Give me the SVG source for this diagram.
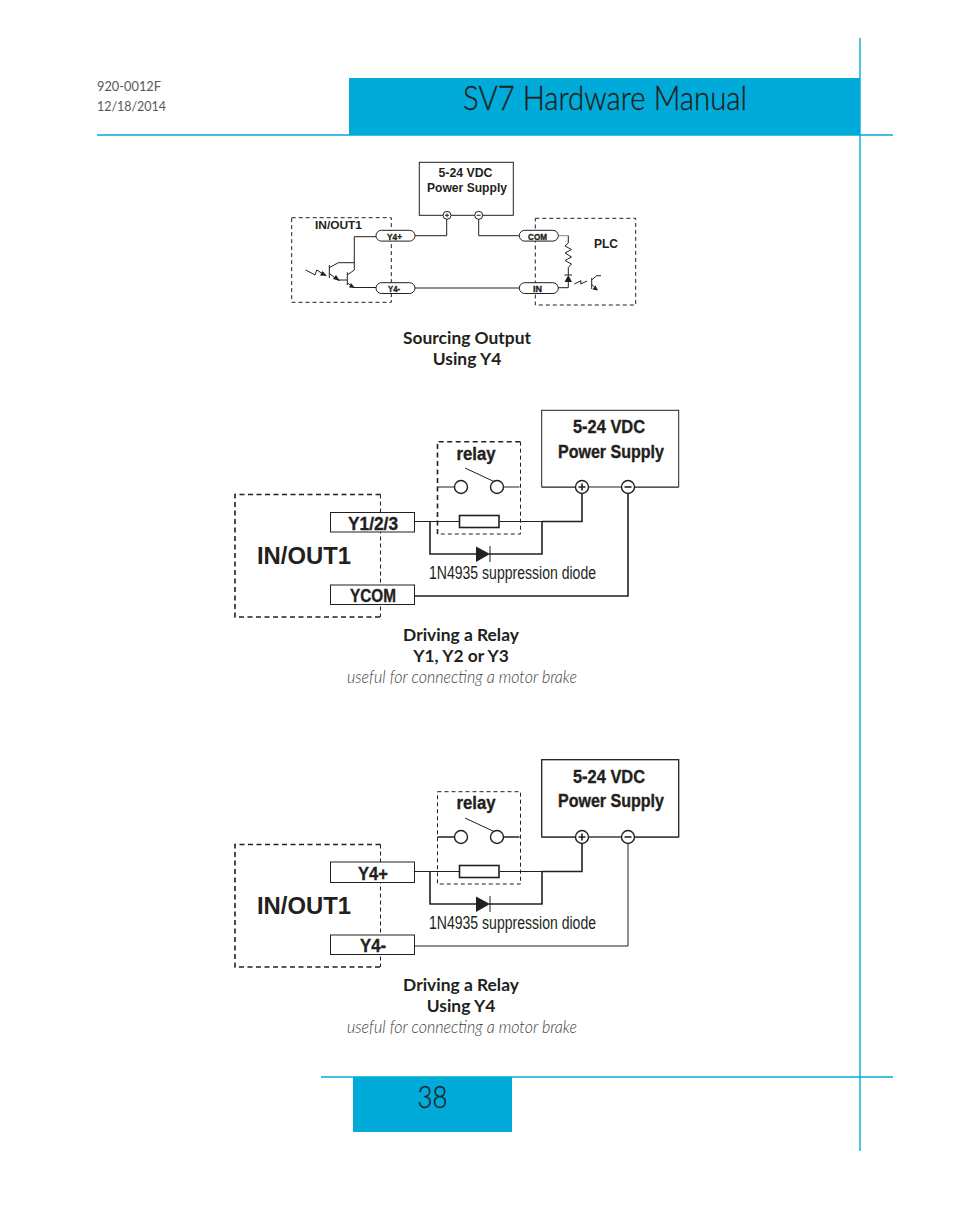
<svg xmlns="http://www.w3.org/2000/svg" width="954" height="1209" viewBox="0 0 954 1209">
<style>
.w{fill:none;stroke:#231f20;stroke-width:1}
.w2{fill:none;stroke:#231f20;stroke-width:1.6}
.d{fill:none;stroke:#231f20;stroke-width:1;stroke-dasharray:4 3}
.d2{fill:none;stroke:#231f20;stroke-width:1.6;stroke-dasharray:5 3.5}
.box{fill:#fff;stroke:#231f20;stroke-width:1}
.c{fill:#fff;stroke:#231f20;stroke-width:1.4}
.k{fill:#231f20;stroke:none}
.t{fill:#231f20;font-family:"Liberation Sans",Arial,sans-serif}
.b{font-weight:700}
.h{fill:#231f20;font-family:Lato,"Open Sans",sans-serif;text-anchor:middle}
.n{font-weight:700;text-anchor:middle;stroke:#231f20;stroke-width:.35}
.m{text-anchor:middle}
.i{fill:#414042;font-family:Lato,sans-serif;font-style:italic;font-weight:300;text-anchor:middle}
</style>
<g id="page">
<rect x="349" y="78" width="511" height="57" fill="#00abd9"/>
<rect x="353" y="1077" width="159" height="55" fill="#00abd9"/>
<path d="M97 135H893M321 1077H893M860 38V1151" fill="none" stroke="#00abd9" stroke-width="1.400"/>
<text x="97" y="91" font-family="Lato,sans-serif" font-size="14" fill="#58595b" textLength="64" lengthAdjust="spacingAndGlyphs">920-0012F</text>
<text x="97" y="111" font-family="Lato,sans-serif" font-size="14" fill="#58595b" textLength="69" lengthAdjust="spacingAndGlyphs">12/18/2014</text>
<text x="463" y="110" font-family="Lato,sans-serif" font-size="34" font-weight="300" fill="#231f20" stroke="#231f20" stroke-width=".35" textLength="284" lengthAdjust="spacingAndGlyphs">SV7 Hardware Manual</text>
<text x="432.500" y="1107.500" font-family="Lato,sans-serif" font-size="32" font-weight="300" fill="#231f20" stroke="#231f20" stroke-width=".3" text-anchor="middle" textLength="30" lengthAdjust="spacingAndGlyphs">38</text>
</g>

<g id="d1-connectors">
<path class="w" d="M415 235.700H446.700V219M478.700 219V235.700H519.300M376 236.700H354.300V270M415 288H519.300"/>
<path d="M558.300 235.700H568.300" fill="none" stroke="#8a8a8a"/>
<path class="w" d="M568.300 235.700V243M568.300 267.500V275M558.300 287.700H568.300V281"/>
<path class="w" d="M568.300 243L565 246L571.500 249.500L565 253L571.500 257L565 260.500L571.500 264L568.300 267.500"/>
<path class="w" d="M329.300 265V278M329.300 267.700L338.300 262.700H354.300M329.300 273.500L338 280H347.300M347.300 272.300V285M347.300 275L354.300 270M347.300 282.700L353.300 287.500H376"/>
<path class="w" d="M305.700 270L315 275L316.700 270L324 274.500M574.300 284L581 280.700L580.700 284L587 281M591.700 278V289M591.700 280L596.700 275.700H601M591.700 284.300L596 288.500"/>
<path class="k" d="M327 276L320 275.500L322.500 271ZM340 281L333 279L336 275ZM355 288L349 287.500L351 283ZM598 290.500L592.500 289.500L595.500 285.500ZM568.300 275L572 282H564.500Z"/>
<path class="w" d="M564.500 275H572"/>
</g>
<g id="d1-supply"><rect class="box" x="419.300" y="162.300" width="94" height="53"/>
<text class="t b m" x="465.500" y="177" font-size="12" textLength="54" lengthAdjust="spacingAndGlyphs">5-24 VDC</text>
<text class="t b m" x="467" y="192" font-size="12" textLength="80" lengthAdjust="spacingAndGlyphs">Power Supply</text>
<circle class="box" cx="447" cy="215.300" r="4"/><path class="w" d="M445 215.300H449M447 213.300V217.300"/>
<circle class="box" cx="478.700" cy="215.300" r="4"/><path class="w" d="M476.700 215.300H480.700"/></g>
<g id="d1-inout"><rect class="d" x="291.700" y="217.700" width="99.600" height="84.600"/>
<text class="t b m" x="338.500" y="229" font-size="11.500" textLength="47" lengthAdjust="spacingAndGlyphs">IN/OUT1</text></g>
<g id="d1-plc"><rect class="d" x="535.300" y="218.300" width="100.400" height="86.700"/>
<text class="t b m" x="606" y="248" font-size="12" textLength="24" lengthAdjust="spacingAndGlyphs">PLC</text></g>
<g id="d1-y4p"><rect class="box" x="376" y="230.300" width="39" height="10.800" rx="5.400"/><text class="t n" x="394.500" y="239.500" font-size="9" textLength="15" lengthAdjust="spacingAndGlyphs">Y4+</text></g>
<g id="d1-y4m"><rect class="box" x="376" y="282.700" width="39" height="10.800" rx="5.400"/><text class="t n" x="394" y="291.500" font-size="9" textLength="12" lengthAdjust="spacingAndGlyphs">Y4-</text></g>
<g id="d1-com"><rect class="box" x="519.300" y="230.300" width="39" height="10.800" rx="5.400"/><text class="t n" x="537.500" y="239.500" font-size="9" textLength="19" lengthAdjust="spacingAndGlyphs">COM</text></g>
<g id="d1-in"><rect class="box" x="519.300" y="282.700" width="39" height="10.800" rx="5.400"/><text class="t n" x="537.500" y="291.500" font-size="9" textLength="9" lengthAdjust="spacingAndGlyphs">IN</text></g>
<text class="h" x="467" y="343.500" font-size="17.400" font-weight="700">Sourcing Output</text>
<text class="h" x="467" y="364.500" font-size="17.400" font-weight="700">Using Y4</text>

<g id="d2-connectors">
<path class="w" d="M414 521.500H459M500 521.500H542"/>
<path class="w2" d="M542 521.500H582V492M430 521.500V554H478M489 554H542V521.500M628 492V596H414"/>
<path class="w" d="M437.500 487H454.500M465 468L495 482M504 487H519.500M575 487H542M635 487H678"/>
<path class="k" d="M476 546.500L490 554L476 562Z"/><path class="w" d="M490 546V562"/>
</g>
<g id="d2-supply"><rect class="box" x="541.700" y="410.300" width="137" height="76.700"/>
<text class="t n" x="609" y="433" font-size="18" textLength="72" lengthAdjust="spacingAndGlyphs">5-24 VDC</text><text class="t n" x="611" y="458" font-size="18" textLength="106" lengthAdjust="spacingAndGlyphs">Power Supply</text>
<circle class="c" cx="582" cy="487" r="6.500"/><path class="w2" d="M578.500 487H585.500M582 483.500V490.500"/>
<circle class="c" cx="628" cy="487" r="6.500"/><path class="w2" d="M624.500 487H631.500"/></g>
<g id="d2-relay"><path class="d2" d="M437.500 534V441.700H520.500"/><path class="d" d="M520.500 441.700V534H437.500"/>
<text class="t n" x="476" y="460" font-size="18" textLength="39" lengthAdjust="spacingAndGlyphs">relay</text>
<circle class="c" cx="461" cy="487" r="6.500"/><circle class="c" cx="497" cy="487" r="6.500"/>
<rect x="459.500" y="515.500" width="39.500" height="12" fill="#fff" stroke="#231f20" stroke-width="1.600"/></g>
<g id="d2-inout"><path class="d2" d="M380.500 494.500H235V617H380.500"/><path class="d" d="M380.500 494.500V617"/>
<text class="t b" x="257" y="564" font-size="24" textLength="94" lengthAdjust="spacingAndGlyphs">IN/OUT1</text></g>
<g id="d2-y123"><rect class="box" x="330.500" y="512.500" width="84" height="19.500"/><text class="t n" x="373" y="530" font-size="18" textLength="50" lengthAdjust="spacingAndGlyphs">Y1/2/3</text></g>
<g id="d2-ycom"><rect class="box" x="330.500" y="585" width="84" height="19.500"/><text class="t n" x="373" y="602" font-size="18" textLength="46" lengthAdjust="spacingAndGlyphs">YCOM</text></g>
<text class="t" x="429" y="579" font-size="18" textLength="167" lengthAdjust="spacingAndGlyphs">1N4935 suppression diode</text>
<text class="h" x="461" y="640.500" font-size="17.400" font-weight="700">Driving a Relay</text>
<text class="h" x="461" y="661.500" font-size="17.400" font-weight="700">Y1, Y2 or Y3</text>
<text class="i" x="462" y="682.500" font-size="17" textLength="230" lengthAdjust="spacingAndGlyphs">useful for connecting a motor brake</text>

<g id="d3-connectors">
<path class="w" d="M414 871.500H459M500 871.500H542M575 837H542M635 837H678"/>
<path class="w2" d="M542 871.500H582V842M430 871.500V904H478M489 904H542V871.500"/>
<path class="w" d="M628 842V946H414"/>
<path class="w2" d="M437.500 837H454.500M504 837H519.500"/>
<path class="w" d="M465 818L495 832"/>
<path class="k" d="M476 896.500L490 904L476 912Z"/><path class="w" d="M490 896V912"/>
</g>
<g id="d3-supply"><rect x="541.700" y="759.700" width="137" height="77.300" fill="#fff" stroke="#231f20" stroke-width="1.300"/>
<text class="t n" x="609" y="783" font-size="18" textLength="72" lengthAdjust="spacingAndGlyphs">5-24 VDC</text><text class="t n" x="611" y="807" font-size="18" textLength="106" lengthAdjust="spacingAndGlyphs">Power Supply</text>
<circle class="c" cx="582" cy="837" r="6.500"/><path class="w2" d="M578.500 837H585.500M582 833.500V840.500"/>
<circle class="c" cx="628" cy="837" r="6.500"/><path class="w2" d="M624.500 837H631.500"/></g>
<g id="d3-relay"><rect class="d" x="437.500" y="791.700" width="83" height="92.300"/>
<text class="t n" x="476" y="809" font-size="18" textLength="39" lengthAdjust="spacingAndGlyphs">relay</text>
<circle class="c" cx="461" cy="837" r="6.500"/><circle class="c" cx="497" cy="837" r="6.500"/>
<rect x="459.500" y="865.500" width="39.500" height="12" fill="#fff" stroke="#231f20" stroke-width="1.600"/></g>
<g id="d3-inout"><path class="d2" d="M380.500 844.500H235V967H380.500"/><path class="d" d="M380.500 844.500V967"/>
<text class="t b" x="257" y="914" font-size="24" textLength="94" lengthAdjust="spacingAndGlyphs">IN/OUT1</text></g>
<g id="d3-y4p"><rect class="box" x="330.500" y="862" width="84" height="20.500"/><text class="t n" x="373" y="880" font-size="18" textLength="30" lengthAdjust="spacingAndGlyphs">Y4+</text></g>
<g id="d3-y4m"><rect class="box" x="330.500" y="935" width="84" height="19.500"/><text class="t n" x="373" y="952" font-size="18" textLength="26" lengthAdjust="spacingAndGlyphs">Y4-</text></g>
<text class="t" x="429" y="929" font-size="18" textLength="167" lengthAdjust="spacingAndGlyphs">1N4935 suppression diode</text>
<text class="h" x="461" y="990.500" font-size="17.400" font-weight="700">Driving a Relay</text>
<text class="h" x="461" y="1011.500" font-size="17.400" font-weight="700">Using Y4</text>
<text class="i" x="462" y="1032.500" font-size="17" textLength="230" lengthAdjust="spacingAndGlyphs">useful for connecting a motor brake</text>
</svg>
